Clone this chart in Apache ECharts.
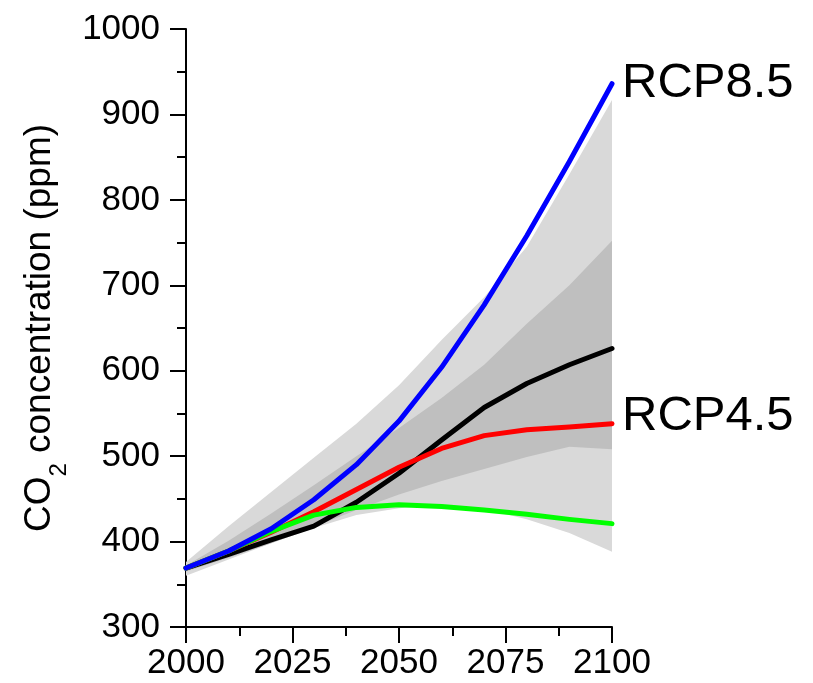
<!DOCTYPE html>
<html>
<head>
<meta charset="utf-8">
<script src="https://cdn.jsdelivr.net/npm/echarts@6/dist/echarts.min.js"></script>
<style>
  html, body { margin: 0; padding: 0; background: #fff; }
  #chart { width: 813px; height: 683px; }
</style>
</head>
<body>
<div id="chart"></div>
<script>
// Years sampled every decade
const years = [2000, 2010, 2020, 2030, 2040, 2050, 2060, 2070, 2080, 2090, 2100];

// Scenario CO2 concentrations (ppm)
const rcp85 = [369, 389, 415, 449, 490, 541, 604, 677, 758, 845, 936];
const rcp45 = [369, 389, 411, 435, 461, 487, 509, 524, 531, 534, 538];
const rcp26 = [369, 389, 412, 431, 440, 443, 441, 437, 432, 426, 421];
// Emission-driven model mean
const modelMean = [369, 385, 402, 418, 446, 480, 519, 557, 585, 607, 626];

// Model spread: full range (light) and inner range (dark)
const outerLow  = [360, 379, 398, 416, 431, 439, 443, 438, 426, 410, 388];
const outerHigh = [376, 418, 458, 498, 538, 583, 636, 686, 745, 830, 917];
const innerLow  = [365, 381, 398, 417, 437, 455, 471, 485, 499, 511, 508];
const innerHigh = [372, 401, 433, 466, 500, 533, 568, 607, 655, 700, 752];

// Axis ticks
const xTicks = { min: 2000, max: 2100, step: 25 };
const yTicks = { min: 300, max: 1000, step: 100 };

const pairs = arr => years.map((y, i) => [y, arr[i]]);

const FONT = 'Liberation Sans, Arial, Helvetica, sans-serif';

// Shaded envelope between a lower and an upper bound, placed via the axes
function band(lo, hi, color) {
  return {
    type: 'custom', silent: true,
    data: [[years[0], lo[0]]],
    encode: { x: 0, y: 1 },
    renderItem: function (params, api) {
      const pts = [];
      years.forEach((y, i) => pts.push(api.coord([y, hi[i]])));
      for (let i = years.length - 1; i >= 0; i--) pts.push(api.coord([years[i], lo[i]]));
      return { type: 'polygon', shape: { points: pts }, style: { fill: color, stroke: null } };
    }
  };
}
function curve(name, arr, color, endLabel) {
  const s = {
    name: name, type: 'line', data: pairs(arr), symbol: 'none', silent: true,
    lineStyle: { color: color, width: 5, cap: 'round', join: 'round' }
  };
  if (endLabel) {
    s.endLabel = Object.assign({
      show: true, formatter: name, color: '#000', fontSize: 49,
      fontFamily: FONT, distance: 10
    }, endLabel);
  }
  return s;
}

const axisCommon = {
  type: 'value',
  axisLine: { show: true, lineStyle: { color: '#000', width: 2 } },
  axisTick: { show: true, length: 16, lineStyle: { color: '#000', width: 2 } },
  minorTick: { show: true, splitNumber: 2, length: 9, lineStyle: { color: '#000', width: 2 } },
  splitLine: { show: false },
  minorSplitLine: { show: false }
};

const chart = echarts.init(document.getElementById('chart'), null, { renderer: 'canvas' });
chart.setOption({
  animation: false,
  backgroundColor: '#fff',
  grid: { left: 186, right: 201, top: 29, bottom: 56, containLabel: false, outerBoundsMode: 'none' },
  xAxis: Object.assign({}, axisCommon, {
    min: xTicks.min, max: xTicks.max, interval: xTicks.step,
    axisLabel: { color: '#000', fontSize: 35, fontFamily: FONT, margin: 19, formatter: v => String(v) }
  }),
  yAxis: Object.assign({}, axisCommon, {
    min: yTicks.min, max: yTicks.max, interval: yTicks.step,
    axisLabel: { color: '#000', fontSize: 35, fontFamily: FONT, margin: 26, formatter: v => String(v) },
    name: '{m|CO}{s|2}{m| concentration (ppm)}',
    nameLocation: 'middle',
    nameRotate: 90,
    nameGap: 117,
    nameTextStyle: {
      rich: {
        m: { fontSize: 37, fontFamily: FONT, color: '#000', lineHeight: 44 },
        s: { fontSize: 24, fontFamily: FONT, color: '#000', lineHeight: 24, padding: [39, 0, 0, 0] }
      }
    }
  }),
  series: [
    band(outerLow, outerHigh, '#d9d9d9'),
    band(innerLow, innerHigh, '#bfbfbf'),
    curve('mean', modelMean, '#000000'),
    curve('RCP4.5', rcp45, '#ff0000', { offset: [0, -7] }),
    curve('RCP2.6', rcp26, '#00ff00'),
    curve('RCP8.5', rcp85, '#0000ff', { offset: [0, 0] })
  ]
});
</script>
</body>
</html>
